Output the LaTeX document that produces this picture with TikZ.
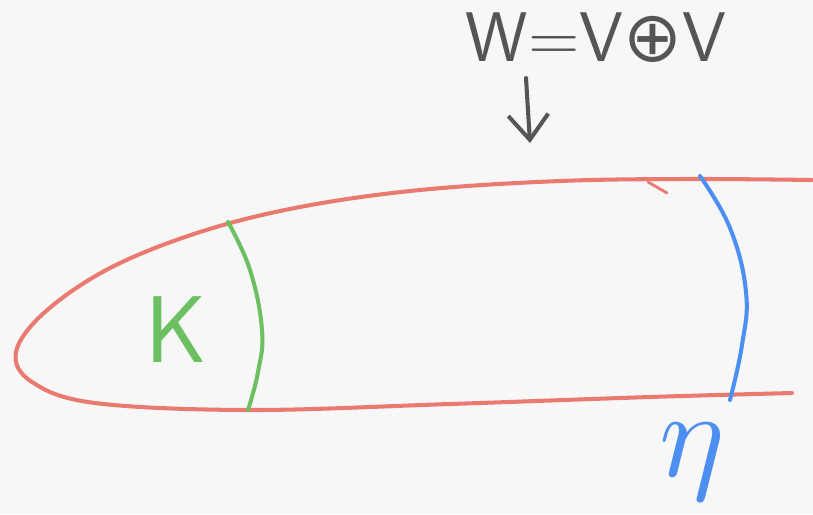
\documentclass[tikz,border=0pt]{standalone}
\usepackage{fontspec}
\newfontfamily\symfont{DejaVu Sans}
\usepackage{xcolor}
\usepackage{tikz}
\usetikzlibrary{arrows.meta,positioning}

\definecolor{paper}{HTML}{F7F7F7}
\definecolor{tubered}{HTML}{EA7A70}
\definecolor{kgreen}{HTML}{6CC062}
\definecolor{etablue}{HTML}{4C8FF0}
\definecolor{pencil}{HTML}{555555}

\begin{document}
\begin{tikzpicture}[
  x=0.02cm,y=-0.02cm,
  stroke/.style={line width=2.3pt,line cap=round,line join=round},
  tube/.style={stroke,draw=tubered},
  cut/.style={stroke},
  lbl/.style={inner sep=0pt,font=\sffamily},
  arr/.style={-{Straight Barb[length=5mm,width=8mm]},stroke,draw=pencil}
]
\fill[paper] (0,0) rectangle (813,514);
\useasboundingbox (0,0) rectangle (813,514);

% the tube
\draw[tube] plot[smooth,tension=0.6] coordinates {(812,180) (690,179) (560,181) (420,190) (300,207) (200,232) (110,268) (45,312) (16,352) (32,382) (95,403) (250,410) (450,404) (650,397) (792,393)};
\draw[tube,line width=1.6pt] (648,182) -- (667,193);

% cuts
\draw[cut,draw=kgreen] plot[smooth,tension=0.7] coordinates {(228,222) (250,270) (262,330) (258,372) (248,410)};
\draw[cut,draw=etablue] plot[smooth,tension=0.7] coordinates {(700,176) (730,228) (746,292) (742,345) (730,400)};

% labels
\node[lbl,text=pencil,font=\sffamily\fontsize{40}{40}\selectfont] (wlabel) at (596,38) {W=V{\symfont ⊕}V};
\node[lbl,text=kgreen,font=\sffamily\fontsize{54}{54}\selectfont] (klabel) at (176,330) {K};
\node[lbl,text=etablue,scale=7] (etalabel) at (692,462) {$\eta$};

\coordinate (wfoot) at (526,78);
\coordinate (tubetop) at (530,143);
\draw[arr] (wfoot) -- (tubetop);
\end{tikzpicture}
\end{document}
